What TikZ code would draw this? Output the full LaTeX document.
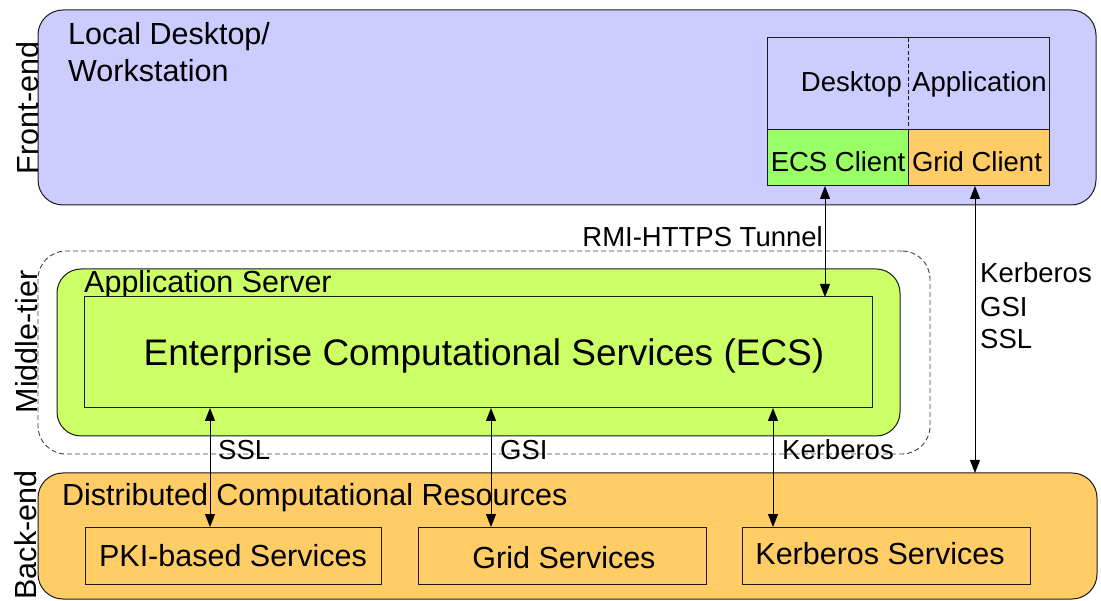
\documentclass[tikz,border=0pt]{standalone}
\usepackage{fontspec}
\setmainfont{Liberation Sans}
\usetikzlibrary{arrows.meta}
\definecolor{frontc}{HTML}{CCCCFF}
\definecolor{midc}{HTML}{CCFF66}
\definecolor{ecsc}{HTML}{99FF66}
\definecolor{backc}{HTML}{FFCC66}
\definecolor{linec}{HTML}{1A1A1A}
\tikzset{
  box/.style={draw=linec, line width=1pt, inner sep=0pt, outer sep=0pt},
  tierbox/.style={box, rounded corners=25pt},
  bigtxt/.style={font=\fontsize{30.5}{36}\selectfont, inner sep=0pt, text=black},
  midtxt/.style={font=\fontsize{27.5}{33}\selectfont, inner sep=0pt, text=black},
  ecstxt/.style={font=\fontsize{37}{44}\selectfont, inner sep=0pt, text=black},
  sidetxt/.style={bigtxt, rotate=90, anchor=base},
  dblarrow/.style={draw=black, line width=1pt, {Triangle[length=13pt,width=10pt]}-{Triangle[length=13pt,width=10pt]}},
}
\begin{document}
\begin{tikzpicture}[x=1pt,y=-1pt]
\useasboundingbox (0,0) rectangle (1101,601);
% Front-end
\node[tierbox, fill=frontc, minimum width=1058pt, minimum height=195pt] (front) at (567,107.5) {};
\node[bigtxt, anchor=base west] (local1) at (68,45) {Local Desktop/};
\node[bigtxt, anchor=base west] (local2) at (68,82) {Workstation};
\node[sidetxt] (frontlbl) at (38,108) {Front-end};
\node[box, fill=frontc, minimum width=282pt, minimum height=92pt] (desktop) at (908,84) {};
\draw[linec, line width=0.9pt, dash pattern=on 4pt off 2.5pt] (desktop.north) -- (desktop.south);
\node[midtxt, anchor=base east] (desktoptxt) at (902,92) {Desktop};
\node[midtxt, anchor=base west] (apptxt) at (912,92) {Application};
\node[box, fill=ecsc, minimum width=141pt, minimum height=56pt, midtxt] (ecsclient) at (837.5,158) {};
\node[midtxt, anchor=base] (ecsclienttxt) at (838,172) {ECS Client};
\node[box, fill=backc, minimum width=141pt, minimum height=56pt] (gridclient) at (978.5,158) {};
\node[midtxt, anchor=base] (gridclienttxt) at (977,172) {Grid Client};
% Middle tier
\node[box, rounded corners=28pt, draw=black!75, line width=0.9pt, dash pattern=on 5pt off 3pt, minimum width=892pt, minimum height=203pt] (middle) at (484,352.5) {};
\node[sidetxt] (midlbl) at (37,342) {Middle-tier};
\node[box, rounded corners=24pt, fill=midc, minimum width=843pt, minimum height=167pt] (appserver) at (478.5,352.5) {};
\node[bigtxt, anchor=base west] (apptitle) at (84,293) {Application Server};
\node[box, fill=midc, minimum width=788pt, minimum height=111pt] (ecs) at (478,352.5) {};
\node[ecstxt, anchor=base] (ecstext) at (484,366) {Enterprise Computational Services (ECS)};
% Back-end
\node[tierbox, fill=backc, minimum width=1059pt, minimum height=126pt] (back) at (567.5,536) {};
\node[sidetxt] (backlbl) at (36,535) {Back-end};
\node[bigtxt, anchor=base west] (distr) at (62,506) {Distributed Computational Resources};
\node[box, fill=backc, minimum width=296pt, minimum height=57pt, bigtxt] (pki) at (233,555.5) {PKI-based Services};
\node[box, fill=backc, minimum width=288pt, minimum height=57pt, bigtxt] (grid) at (562,555.5) {};
\node[bigtxt, anchor=base] (gridtxt) at (564,568) {Grid Services};
\node[box, fill=backc, minimum width=288pt, minimum height=57pt, bigtxt] (kerb) at (886,555.5) {};
\node[bigtxt, anchor=base] (kerbtxt) at (880,564) {Kerberos Services};
% connectors
\coordinate (xrmi) at (825,0);
\coordinate (xright) at (975,0);
\coordinate (xssl) at (210,0);
\coordinate (xgsi) at (491,0);
\coordinate (xkrb) at (773,0);
\draw[dblarrow] (ecsclient.south -| xrmi) -- (ecs.north -| xrmi);
\draw[dblarrow] (gridclient.south -| xright) -- (back.north -| xright);
\draw[dblarrow] (ecs.south -| xssl) -- (pki.north -| xssl);
\draw[dblarrow] (ecs.south -| xgsi) -- (grid.north -| xgsi);
\draw[dblarrow] (ecs.south -| xkrb) -- (kerb.north -| xkrb);
% labels
\node[midtxt, anchor=base east] (rmilbl) at (823,247) {RMI-HTTPS Tunnel};
\node[midtxt, anchor=base west] (rk) at (980,283) {Kerberos};
\node[midtxt, anchor=base west] (rg) at (980,317) {GSI};
\node[midtxt, anchor=base west] (rs) at (980,349) {SSL};
\node[midtxt, anchor=base west] (lssl) at (218,460) {SSL};
\node[midtxt, anchor=base west] (lgsi) at (500,460) {GSI};
\node[midtxt, anchor=base west] (lkrb) at (782,460) {Kerberos};
\end{tikzpicture}
\end{document}
